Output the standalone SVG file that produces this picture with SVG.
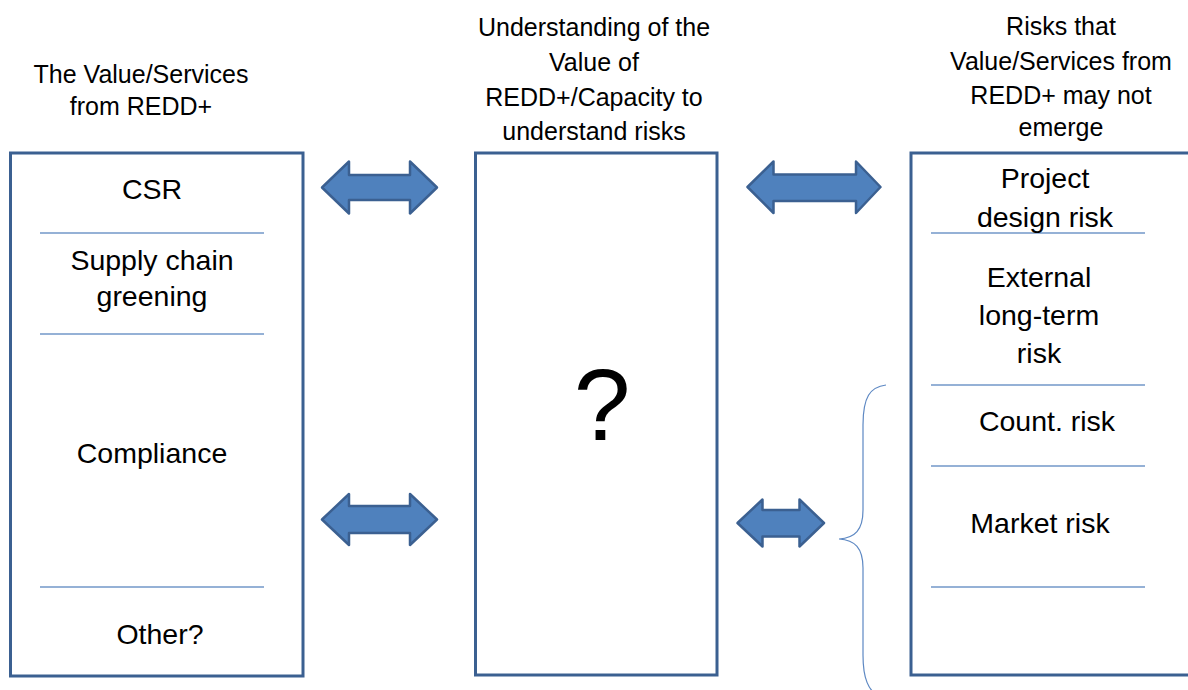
<svg xmlns="http://www.w3.org/2000/svg" width="1188" height="690" viewBox="0 0 1188 690">
<style>
.box{fill:#fff;stroke:#3B6091;stroke-width:3}
.div{stroke:#7297C8;stroke-width:1.4;fill:none}
.arr{fill:#4F81BD;stroke:#3B6091;stroke-width:2.5;stroke-linejoin:round}
.brace{fill:none;stroke:#5D88C3;stroke-width:1.2}
text{font-family:"Liberation Sans",Arial,sans-serif;fill:#000;text-anchor:middle}
.h{font-size:25px}
.b{font-size:28.5px}
</style>
<rect width="1188" height="690" fill="#fff"/>
<g id="header-left">
<text class="h" x="141" y="83">The Value/Services</text>
<text class="h" x="141" y="115">from REDD+</text>
</g>
<g id="header-middle">
<text class="h" x="594" y="36">Understanding of the</text>
<text class="h" x="594" y="71">Value of</text>
<text class="h" x="594" y="106">REDD+/Capacity to</text>
<text class="h" x="594" y="140">understand risks</text>
</g>
<g id="header-right">
<text class="h" x="1061" y="35">Risks that</text>
<text class="h" x="1061" y="70">Value/Services from</text>
<text class="h" x="1061" y="104">REDD+ may not</text>
<text class="h" x="1061" y="136">emerge</text>
</g>
<g id="box-left">
<rect class="box" x="10.5" y="153" width="292.5" height="523"/>
<line class="div" x1="40" y1="233" x2="264" y2="233"/>
<line class="div" x1="40" y1="334" x2="264" y2="334"/>
<line class="div" x1="40" y1="587" x2="264" y2="587"/>
<text class="b" x="152" y="199">CSR</text>
<text class="b" x="152" y="270">Supply chain</text>
<text class="b" x="152" y="306">greening</text>
<text class="b" x="152" y="463">Compliance</text>
<text class="b" x="160" y="644">Other?</text>
</g>
<g id="box-middle">
<rect class="box" x="475.5" y="153" width="241.5" height="522"/>
<text x="602" y="440" style="font-size:102px">?</text>
</g>
<g id="box-right">
<rect class="box" x="911" y="153" width="340" height="522"/>
<line class="div" x1="931" y1="233" x2="1145" y2="233"/>
<line class="div" x1="931" y1="385" x2="1145" y2="385"/>
<line class="div" x1="931" y1="466" x2="1145" y2="466"/>
<line class="div" x1="931" y1="587" x2="1145" y2="587"/>
<text class="b" x="1045" y="188">Project</text>
<text class="b" x="1045" y="227">design risk</text>
<text class="b" x="1039" y="287">External</text>
<text class="b" x="1039" y="325">long-term</text>
<text class="b" x="1039" y="363">risk</text>
<text class="b" x="1047" y="431">Count. risk</text>
<text class="b" x="1040" y="533">Market risk</text>
</g>
<g id="connectors">
<polygon class="arr" points="322,187.5 349,161.5 349,175 410,175 410,161.5 437,187.5 410,213.5 410,200 349,200 349,213.5"/>
<polygon class="arr" points="747.5,187 773.5,161.5 773.5,174.5 856,174.5 856,161.5 880.5,187 856,213 856,201 773.5,201 773.5,213"/>
<polygon class="arr" points="322,519.5 349,494 349,506 410,506 410,494 437,519.5 410,545 410,533 349,533 349,545"/>
<polygon class="arr" points="737.5,523 762.5,499.5 762.5,510 799.5,510 799.5,499.5 824,523 799.5,546.5 799.5,536.5 762.5,536.5 762.5,546.5"/>
<path class="brace" d="M886,385 C870,387 863,397 863,425 L863,510 C863,530 855,538 839,539 C855,540 863,548 863,568 L863,655 C863,680 869,690 878,696"/>
</g>
</svg>
